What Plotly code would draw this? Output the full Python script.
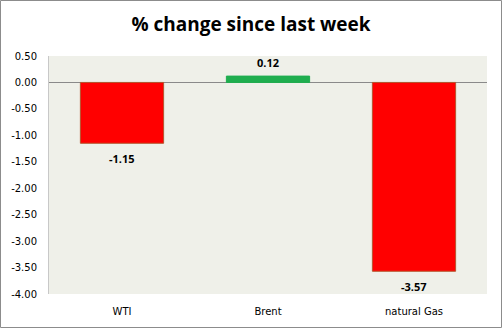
import plotly.graph_objects as go

categories = ["WTI", "Brent", "natural Gas"]
values = [-1.15, 0.12, -3.57]
colors = ["#FF0000", "#1FAE4F", "#FF0000"]
line_colors = ["#B5552E", "#1FAE4F", "#B5552E"]
tick_vals = [0.5, 0, -0.5, -1, -1.5, -2, -2.5, -3, -3.5, -4]
tick_text = [f"{v:.2f}" for v in tick_vals]

W, H = 502, 328
L, R, T, B = 49, 15, 56, 34
pw, ph = W - L - R, H - T - B

fig = go.Figure(go.Bar(
    x=categories, y=values,
    marker=dict(color=colors, line=dict(color=line_colors, width=1)),
    width=0.57,
    hoverinfo="x+y",
))

for c, v in zip(categories, values):
    fig.add_annotation(
        x=c, y=v, text=f"<b>{v:.2f}</b>", showarrow=False,
        yanchor="top" if v < 0 else "bottom",
        yshift=-6 if v < 0 else 4,
        font=dict(family="Open Sans", size=11, color="black"),
    )

fig.update_layout(
    width=W, height=H,
    margin=dict(l=L, r=R, t=T, b=B),
    paper_bgcolor="white",
    plot_bgcolor="#EFF0E9",
    title=dict(text="<b>% change since last week</b>", x=0.5, xanchor="center",
               y=1 - 24 / H, yanchor="middle",
               font=dict(family="Open Sans", size=19, color="black")),
    xaxis=dict(showgrid=False, showline=False, ticks="", ticklabelstandoff=10,
               tickfont=dict(family="DejaVu Sans", size=10, color="black")),
    yaxis=dict(range=[-4, 0.5], tickvals=tick_vals, ticktext=tick_text,
               showgrid=False, zeroline=True, zerolinecolor="#8A8A8A", zerolinewidth=1,
               showline=True, linecolor="#C8C8C8", linewidth=1, ticks="",
               ticklabelstandoff=9,
               tickfont=dict(family="DejaVu Sans", size=10, color="black")),
    showlegend=False,
    shapes=[dict(type="rect", xref="paper", yref="paper",
                 x0=-(L - 0.5) / pw, x1=1 + (R - 0.5) / pw,
                 y0=-(B - 0.5) / ph, y1=1 + (T - 0.5) / ph,
                 line=dict(color="#8C8C8C", width=1), layer="above")],
)

fig.write_html("out.html")
